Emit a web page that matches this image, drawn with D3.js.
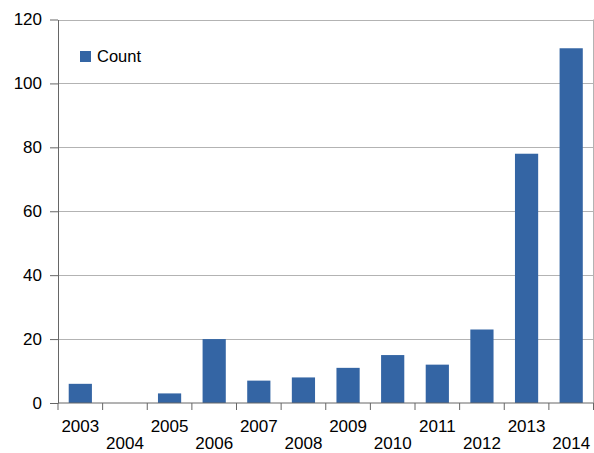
<!DOCTYPE html>
<html>
<head>
<meta charset="utf-8">
<script src="https://cdn.jsdelivr.net/npm/d3@7"></script>
<style>
  body { margin: 0; background: #fff; }
  text { font-family: "Liberation Sans", Arial, sans-serif; }
</style>
</head>
<body>
<div id="grafico"></div>
<script>
// Datos del gráfico
const years = ["2003", "2004", "2005", "2006", "2007", "2008", "2009", "2010", "2011", "2012", "2013", "2014"];
const counts = [6, 0, 3, 20, 7, 8, 11, 15, 12, 23, 78, 111];
const yTicks = [0, 20, 40, 60, 80, 100, 120];
const seriesName = "Count";

const width = 594, height = 453;
const mLeft = 58, mRight = 593.5, mTop = 19.5, mBottom = 403;

const svg = d3.select("#grafico")
    .append("svg")
    .attr("width", width)
    .attr("height", height);

const xScale = d3.scaleBand()
    .domain(years)
    .range([mLeft, mRight])
    .paddingInner(0.48)
    .paddingOuter(0.24);

const yScale = d3.scaleLinear()
    .domain([0, 120])
    .range([mBottom, mTop]);

// Líneas de cuadrícula
svg.append("g")
    .selectAll("line")
    .data(yTicks.filter(d => d > 0))
    .enter()
    .append("line")
    .attr("x1", mLeft)
    .attr("x2", mRight)
    .attr("y1", d => Math.round(yScale(d)) + 0.5)
    .attr("y2", d => Math.round(yScale(d)) + 0.5)
    .attr("stroke", "#b3b3b3")
    .attr("stroke-width", 1);

// Borde derecho
svg.append("line")
    .attr("x1", mRight).attr("x2", mRight)
    .attr("y1", mTop).attr("y2", mBottom)
    .attr("stroke", "#b3b3b3");

// Barras
svg.selectAll(".bar")
    .data(counts.map((c, i) => ({ year: years[i], count: c })))
    .enter()
    .append("rect")
    .attr("class", "bar")
    .attr("x", d => xScale(d.year))
    .attr("y", d => yScale(d.count))
    .attr("width", xScale.bandwidth())
    .attr("height", d => mBottom - yScale(d.count))
    .attr("fill", "#3465a4");

// Eje Y
const yAxis = svg.append("g")
    .attr("transform", `translate(${mLeft}, 0)`)
    .call(d3.axisLeft(yScale).tickValues(yTicks).tickSize(8).tickPadding(8).tickSizeOuter(0));
yAxis.select(".domain").attr("stroke", "#666");
yAxis.selectAll(".tick line").attr("stroke", "#666");
yAxis.selectAll(".tick text")
    .attr("fill", "#000")
    .style("font-size", "17px");

// Eje X: marcas en los límites de categoría
const bounds = d3.range(years.length + 1).map(i => mLeft + i * (mRight - mLeft) / years.length);
svg.append("line")
    .attr("x1", mLeft).attr("x2", mRight)
    .attr("y1", mBottom).attr("y2", mBottom)
    .attr("stroke", "#666");
svg.append("g")
    .selectAll("line")
    .data(bounds)
    .enter()
    .append("line")
    .attr("x1", d => d).attr("x2", d => d)
    .attr("y1", mBottom).attr("y2", mBottom + 7)
    .attr("stroke", "#666");

svg.append("g")
    .selectAll("text")
    .data(years)
    .enter()
    .append("text")
    .attr("x", d => xScale(d) + xScale.bandwidth() / 2)
    .attr("y", (d, i) => i % 2 === 0 ? 432 : 449)
    .attr("text-anchor", "middle")
    .style("font-size", "17px")
    .attr("fill", "#000")
    .text(d => d);

// Leyenda
svg.append("rect")
    .attr("x", 80).attr("y", 51)
    .attr("width", 11).attr("height", 11)
    .attr("fill", "#3465a4");
svg.append("text")
    .attr("x", 97).attr("y", 62)
    .style("font-size", "16.5px")
    .attr("fill", "#000")
    .text(seriesName);
</script>
</body>
</html>
